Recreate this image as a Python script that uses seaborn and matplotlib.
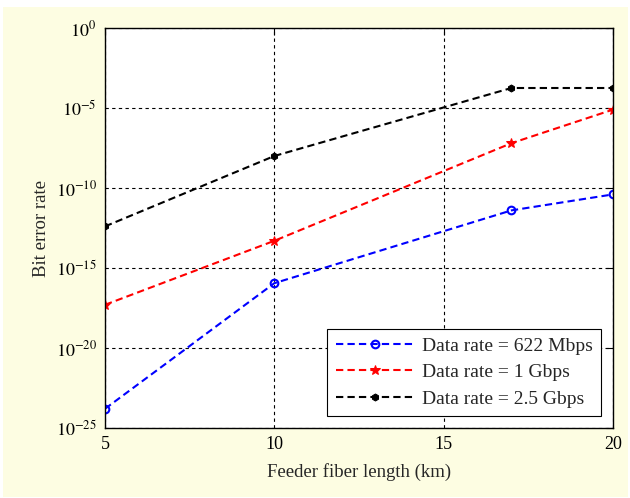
import matplotlib
matplotlib.use("Agg")
import matplotlib.pyplot as plt
import seaborn as sns
import pandas as pd
import numpy as np
from matplotlib.patches import Rectangle

# ---- data ----
length_km = [5, 10, 17, 20]
ber_622 = [10**-23.8, 10**-15.95, 10**-11.4, 10**-10.4]
ber_1g = [10**-17.3, 10**-13.3, 10**-7.2, 10**-5.1]
ber_25g = [10**-12.4, 10**-8.0, 10**-3.75, 10**-3.75]
series_labels = ["Data rate = 622 Mbps", "Data rate = 1 Gbps", "Data rate = 2.5 Gbps"]
x_ticks = [5, 10, 15, 20]
y_ticks = [1e-25, 1e-20, 1e-15, 1e-10, 1e-5, 1e0]
y_tick_labels = [r"$10^{-25}$", r"$10^{-20}$", r"$10^{-15}$", r"$10^{-10}$", r"$10^{-5}$", r"$10^{0}$"]

sns.set_style("white")
plt.rcParams["font.family"] = ["Liberation Serif", "DejaVu Serif"]
plt.rcParams["mathtext.fontset"] = "stix"

fig = plt.figure(figsize=(6.3, 4.98), dpi=100)
fig.patch.set_facecolor("white")
fig.patches.append(Rectangle((3/630, 1-497/498), 625/630, 490/498, transform=fig.transFigure,
                             facecolor="#FDFDE2", edgecolor="none", zorder=-10))
ax = fig.add_axes([105/630, 1-428/498, 508/630, 400/498])
ax.set_facecolor("white")

df = pd.DataFrame({
    "x": length_km * 3,
    "y": ber_622 + ber_1g + ber_25g,
    "s": [series_labels[0]] * 4 + [series_labels[1]] * 4 + [series_labels[2]] * 4,
})

styles = [
    dict(color="blue", marker="o", markersize=5.5, markerfacecolor="none", markeredgecolor="blue", markeredgewidth=1.5),
    dict(color="red", marker="*", markersize=7, markerfacecolor="red", markeredgecolor="red"),
    dict(color="black", marker="h", markersize=5, markerfacecolor="black", markeredgecolor="black"),
]
for lab, st in zip(series_labels, styles):
    sub = df[df["s"] == lab]
    sns.lineplot(data=sub, x="x", y="y", ax=ax, label=lab, linestyle=(0, (3.5, 2)),
                 linewidth=1.5, estimator=None, **st)

ax.set_yscale("log")
ax.set_xlim(5, 20)
ax.set_ylim(1e-25, 1e0)
ax.set_xticks(x_ticks)
ax.set_xticklabels([str(t) for t in x_ticks])
ax.set_yticks(y_ticks)
ax.set_yticklabels(y_tick_labels)
ax.yaxis.set_minor_locator(matplotlib.ticker.NullLocator())
ax.tick_params(direction="in", length=5, width=0.8, top=True, right=True, labelsize=13, colors="black", pad=6)
ax.grid(True, which="major", color="black", linestyle=(0, (3, 3)), linewidth=0.8)
for sp in ax.spines.values():
    sp.set_color("black")
    sp.set_linewidth(1.0)

ax.set_xlabel("Feeder fiber length (km)", fontsize=13.5, labelpad=7)
ax.set_ylabel("Bit error rate", fontsize=13.5, labelpad=4)

leg = ax.legend(loc="lower right", fontsize=14, handlelength=4, frameon=True, fancybox=False,
                edgecolor="black", framealpha=1, borderaxespad=0.6, labelspacing=0.45,
                borderpad=0.45, handletextpad=0.4)
leg.get_frame().set_linewidth(0.8)

fig.savefig("out.png", dpi=100)
